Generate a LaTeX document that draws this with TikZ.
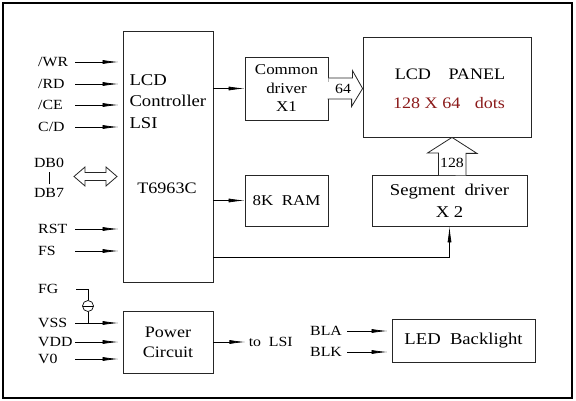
\documentclass[tikz,border=0pt]{standalone}
\usepackage{fontspec}
\setmainfont{Liberation Serif}[FakeStretch=1.13]
\usepackage{xcolor}
\usetikzlibrary{arrows.meta,calc,positioning}
\definecolor{dotred}{HTML}{8B1A1A}

\begin{document}
\begin{tikzpicture}[
  x=1pt,
  y=-1pt,
  every node/.style={font=\fontsize{14}{17}\selectfont},
  frame/.style={draw=black, line width=2pt},
  block/.style={draw=black!85, line width=0.8pt, inner sep=0pt},
  pin/.style={anchor=west, inner sep=0pt},
  sig/.style={-{Latex[length=16pt,width=4pt]}, line width=0.7pt},
  inp/.style={sig, shorten >=4pt},
  bus/.style={draw=black!85, line width=0.8pt, fill=white},
  fuse/.style={circle, draw, line width=0.7pt, minimum size=11pt, inner sep=0pt,
    path picture={\draw[line width=0.7pt] (path picture bounding box.west) -- (path picture bounding box.east);}}
]
\useasboundingbox (0,0) rectangle (576,401);
\draw[frame] (3,3) rectangle (572,398);

% blocks
\node[block, minimum width=90pt, minimum height=251pt] (ctrl) at (168,156.5) {};
\node[anchor=west, align=left, font=\fontsize{16.5}{21.5}\selectfont] (ctrltxt) at (126,101.5) {LCD\\Controller\\LSI};
\node[font=\fontsize{16}{19}\selectfont] (chip) at (167,188) {T6963C};
\node[block, minimum width=90pt, minimum height=62pt, align=center, font=\fontsize{16}{20}\selectfont] (power) at (168,342) {Power\\Circuit};
\node[block, minimum width=83pt, minimum height=63pt, align=center, font=\fontsize{15}{18.5}\selectfont] (common) at (286.5,88.5) {Common\\driver\\X1};
\node[block, minimum width=83pt, minimum height=51pt, font=\fontsize{15}{18}\selectfont] (ram) at (286.5,200.5) {8K\ \ RAM};
\node[block, minimum width=168pt, minimum height=100pt] (panel) at (447,87) {};
\node[font=\fontsize{16}{19}\selectfont] (paneltxt) at (450,74) {LCD\hspace{1.1em}PANEL};
\node[font=\fontsize{16}{19}\selectfont, text=dotred] (dots) at (449,103) {128 X 64\hspace{0.9em}dots};
\node[block, minimum width=155pt, minimum height=51pt, align=center, font=\fontsize{16.5}{22}\selectfont] (segment) at (449.5,200.5) {Segment\ \ driver\\X 2};
\node[block, minimum width=143pt, minimum height=43pt, font=\fontsize{16.5}{19}\selectfont] (led) at (463.5,340.5) {LED\ \ Backlight};

% controller inputs
\node[pin] (wr) at (38,62) {/WR};
\node[pin] (rd) at (38,84) {/RD};
\node[pin] (ce) at (38,105) {/CE};
\node[pin] (cd) at (38,127) {C/D};
\node[pin] (rst) at (38,229) {RST};
\node[pin] (fs) at (38,251) {FS};
\coordinate (wrin) at (75,62);
\coordinate (rdin) at (75,84);
\coordinate (cein) at (75,105);
\coordinate (cdin) at (75,127);
\coordinate (rstin) at (75,229);
\coordinate (fsin) at (75,251);
\draw[inp] (wrin) -- (wrin -| ctrl.west);
\draw[inp] (rdin) -- (rdin -| ctrl.west);
\draw[inp] (cein) -- (cein -| ctrl.west);
\draw[inp] (cdin) -- (cdin -| ctrl.west);
\draw[inp] (rstin) -- (rstin -| ctrl.west);
\draw[inp] (fsin) -- (fsin -| ctrl.west);

% data bus
\node (db0) at (49,163) {DB0};
\node (db7) at (49,193) {DB7};
\draw[line width=0.9pt, shorten <=1pt, shorten >=1pt] (db0) -- (db7);
\coordinate (dbbus) at (74,176.5);
\draw[bus] (dbbus) -- ++(11,-9.5) -- ++(0,5.5) -- ++(21,0) -- ++(0,-5.5) -- ++(11,9.5)
  -- ++(-11,9.5) -- ++(0,-5.5) -- ++(-21,0) -- ++(0,5.5) -- cycle;

% power inputs
\node[pin] (fg) at (38,289) {FG};
\node[pin] (vss) at (38,323) {VSS};
\node[pin] (vdd) at (38,342) {VDD};
\node[pin] (vzero) at (38,359) {V0};
\coordinate (fgout) at (76,289);
\coordinate (vssin) at (75,323);
\coordinate (vddin) at (75,342);
\coordinate (vzeroin) at (75,359);
\node[fuse] (fgfuse) at (88,306) {};
\draw[line width=0.7pt] (fgout) -| (fgfuse.north);
\draw[line width=0.7pt] (fgfuse.south) -- (fgfuse |- vssin);
\draw[inp] (vssin) -- (vssin -| power.west);
\draw[inp] (vddin) -- (vddin -| power.west);
\draw[inp] (vzeroin) -- (vzeroin -| power.west);
\draw[sig] (power.east) -- ++(32,0) node[anchor=west, inner sep=3pt] (tolsi) {to\ \ LSI};

% controller outputs
\draw[sig] (ctrl.east |- common.west) -- (common.west);
\draw[sig] (ctrl.east |- ram.west) -- (ram.west);
\draw[sig] (ctrl.south east) ++(0,-25) -| (segment.south);

% wide buses
\draw[bus] ($(common.east)+(0,-10.5)$) -- ++(24,0) -- ++(0,-7.5) -- (panel.west |- common.east)
  -- ++(-11,18) -- ++(0,-7.5) -- ++(-24,0);
\node[font=\fontsize{14}{17}\selectfont, inner sep=0pt] (bus64) at (343,89) {64};
\coordinate (up128) at (452,175);
\draw[bus] ($(up128)+(-13.5,0)$) -- ++(0,-22) -- ++(-11,0) -- (up128 |- panel.south)
  -- ++(25,16) -- ++(-11,0) -- ++(0,22);
\node[font=\fontsize{14}{17}\selectfont, inner sep=0pt] (bus128) at (452,163) {128};

% backlight
\node[pin] (bla) at (310,331) {BLA};
\node[pin] (blk) at (310,352) {BLK};
\coordinate (blain) at (347,331);
\coordinate (blkin) at (347,352);
\draw[inp] (blain) -- (blain -| led.west);
\draw[inp] (blkin) -- (blkin -| led.west);
\end{tikzpicture}
\end{document}
